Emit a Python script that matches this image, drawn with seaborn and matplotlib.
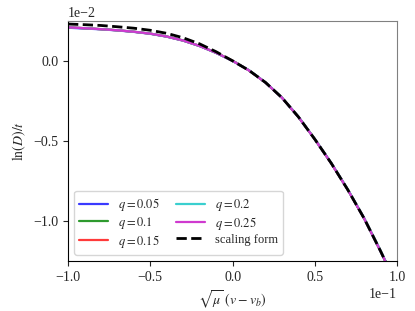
import numpy as np
import pandas as pd
import matplotlib
matplotlib.use("Agg")
import matplotlib.pyplot as plt
import seaborn as sns
from matplotlib.ticker import MultipleLocator

# x in units of 1e-1, y in units of 1e-2 (converted below)
x_vals = [-1.0, -0.9, -0.8, -0.7, -0.6, -0.5, -0.4, -0.3, -0.2, -0.1, 0.0,
          0.1, 0.2, 0.3, 0.4, 0.5, 0.6, 0.7, 0.8, 0.9, 0.95]
q_labels = ["$q=0.05$", "$q=0.1$", "$q=0.15$", "$q=0.2$", "$q=0.25$"]
y_q005 = [0.207, 0.202, 0.197, 0.190, 0.181, 0.169, 0.151, 0.126, 0.092, 0.050, 0.000,
          -0.060, -0.136, -0.231, -0.351, -0.491, -0.641, -0.806, -0.986, -1.192, -1.300]
y_q01 = [0.209, 0.204, 0.198, 0.191, 0.182, 0.170, 0.152, 0.127, 0.093, 0.050, 0.001,
         -0.059, -0.135, -0.230, -0.350, -0.490, -0.640, -0.805, -0.985, -1.190, -1.298]
y_q015 = [0.210, 0.204, 0.198, 0.191, 0.182, 0.170, 0.152, 0.127, 0.093, 0.051, 0.001,
          -0.060, -0.135, -0.230, -0.349, -0.489, -0.640, -0.804, -0.984, -1.189, -1.297]
y_q02 = [0.209, 0.204, 0.198, 0.191, 0.182, 0.170, 0.152, 0.127, 0.093, 0.050, 0.000,
         -0.059, -0.134, -0.229, -0.348, -0.488, -0.638, -0.802, -0.982, -1.186, -1.295]
y_q025 = [0.209, 0.204, 0.198, 0.191, 0.182, 0.170, 0.152, 0.127, 0.093, 0.050, 0.000,
          -0.060, -0.135, -0.230, -0.350, -0.490, -0.640, -0.805, -0.985, -1.190, -1.298]
y_scaling = [0.230, 0.226, 0.221, 0.213, 0.204, 0.191, 0.172, 0.144, 0.106, 0.057, 0.000,
             -0.060, -0.135, -0.230, -0.350, -0.490, -0.640, -0.805, -0.985, -1.190, -1.298]
q_colors = ["#3a3aff", "#2e9a2e", "#ff3a3a", "#3acfcf", "#cf3acf"]

sns.set_style("ticks")
plt.rcParams["font.family"] = ["Liberation Serif", "DejaVu Serif"]
plt.rcParams["mathtext.fontset"] = "stix"
plt.rcParams["font.size"] = 10

fig = plt.figure(figsize=(4.15, 3.11), dpi=100)
ax = fig.add_axes([0.1639, 0.161, 0.793, 0.772])

x = np.array(x_vals) * 0.1
for lab, ys, col in zip(q_labels, [y_q005, y_q01, y_q015, y_q02, y_q025], q_colors):
    df = pd.DataFrame({"x": x, "y": np.array(ys) * 0.01})
    sns.lineplot(data=df, x="x", y="y", color=col, lw=1.6, label=lab, ax=ax)
df = pd.DataFrame({"x": x, "y": np.array(y_scaling) * 0.01})
sns.lineplot(data=df, x="x", y="y", color="black", lw=2.0, linestyle="--",
             label="scaling form", ax=ax)

ax.set_xlim(-0.1, 0.1)
ax.set_ylim(-0.0125, 0.0025)
ax.xaxis.set_major_locator(MultipleLocator(0.05))
ax.yaxis.set_major_locator(MultipleLocator(0.005))
ax.ticklabel_format(style="sci", axis="both", scilimits=(0, 0))
ax.set_xlabel(r"$\sqrt{\mu}\ (v - v_b)$")
ax.set_ylabel(r"$\ln(D)/t$")
for s in ["top", "right"]:
    ax.spines[s].set_color("#808080")
for s in ["left", "bottom"]:
    ax.spines[s].set_color("black")
ax.legend(ncol=2, loc="lower left", fontsize=9, handlelength=2.3,
          columnspacing=1.3, labelspacing=0.15)

fig.savefig("out.png", dpi=100)
